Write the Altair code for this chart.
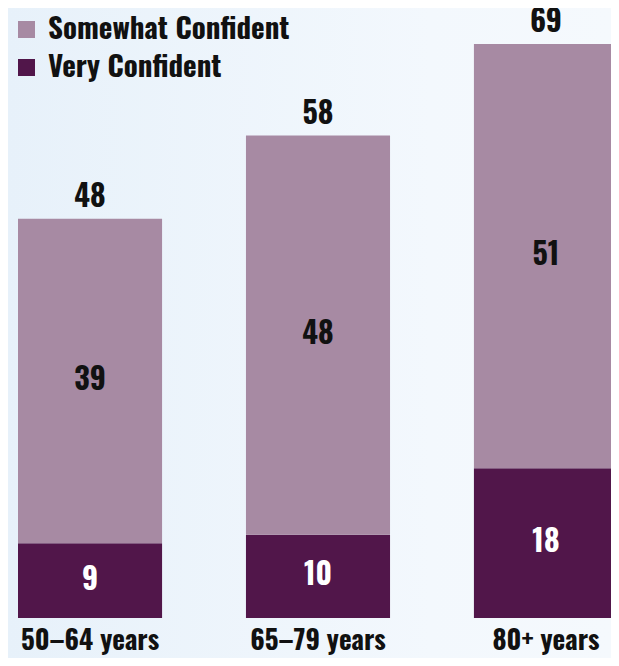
import altair as alt
import pandas as pd

ages = ["50–64 years", "65–79 years", "80+ years"]
somewhat = [39, 48, 51]
very = [9, 10, 18]
totals = [48, 58, 69]
series = ["Somewhat Confident", "Very Confident"]
colors = ["#a78aa3", "#51164a"]

FONT = "Oswald, Roboto Condensed, sans-serif"
W, H = 603, 650

rows = []
for a, s, v, t in zip(ages, somewhat, very, totals):
    rows.append({"age": a, "series": series[1], "value": v, "ord": 0, "mid": v / 2})
    rows.append({"age": a, "series": series[0], "value": s, "ord": 1, "mid": v + s / 2})
df = pd.DataFrame(rows)
tot = pd.DataFrame({"age": ages, "total": totals, "lab": [-3.9] * len(ages)})

xscale = alt.Scale(domain=ages, range=[10, 610], paddingInner=0.368, paddingOuter=0)
yscale = alt.Scale(domain=[-4.808, 73.33], nice=False, zero=False)

bg = alt.Chart(pd.DataFrame({"a": [0]})).mark_rect(
    fill=alt.Gradient(
        gradient="linear", x1=0, y1=0.5, x2=1, y2=0.5,
        stops=[alt.GradientStop(color="#e7f1fa", offset=0),
               alt.GradientStop(color="#f3f8fd", offset=0.7),
               alt.GradientStop(color="#f5f9fd", offset=1)],
    )
).encode(x=alt.value(0), x2=alt.value(W), y=alt.value(0), y2=alt.value(H))

bars = alt.Chart(df).mark_bar().encode(
    x=alt.X("age:N", scale=xscale, axis=None),
    y=alt.Y("value:Q", stack="zero", scale=yscale, axis=None),
    color=alt.Color(
        "series:N",
        scale=alt.Scale(domain=series, range=colors),
        legend=alt.Legend(
            title=None, orient="none", legendX=4, legendY=7,
            symbolType="square", symbolSize=289, symbolStrokeWidth=0,
            labelFont=FONT, labelFontSize=29, labelFontWeight="bold",
            labelColor="#111111", labelOffset=7, rowPadding=8, padding=0,
            labelLimit=0,
        ),
    ),
    order=alt.Order("ord:Q"),
)

seg_labels = alt.Chart(df).mark_text(
    font=FONT, fontSize=30, fontWeight="bold", baseline="middle", dy=0
).encode(
    x=alt.X("age:N", scale=xscale),
    y=alt.Y("mid:Q", scale=yscale),
    text="value:Q",
    color=alt.Color("series:N", scale=alt.Scale(domain=series, range=["#111111", "#ffffff"]), legend=None),
)

tot_labels = alt.Chart(tot).mark_text(
    font=FONT, fontSize=30, fontWeight="bold", baseline="alphabetic", dy=-12, color="#111111"
).encode(
    x=alt.X("age:N", scale=xscale),
    y=alt.Y("total:Q", scale=yscale),
    text="total:Q",
)

age_labels = alt.Chart(tot).mark_text(
    font=FONT, fontSize=27, fontWeight="bold", baseline="alphabetic", color="#111111"
).encode(
    x=alt.X("age:N", scale=xscale),
    y=alt.Y("lab:Q", scale=yscale),
    text="age:N",
)

chart = (
    alt.layer(bg, bars, seg_labels, tot_labels, age_labels)
    .resolve_scale(color="independent")
    .properties(width=W, height=H, padding=0, background="#eef5fc",
                autosize=alt.AutoSizeParams(type="none"))
    .configure_view(stroke=None)
)

chart.save("out.html", embed_options={"renderer": "svg", "actions": False})
